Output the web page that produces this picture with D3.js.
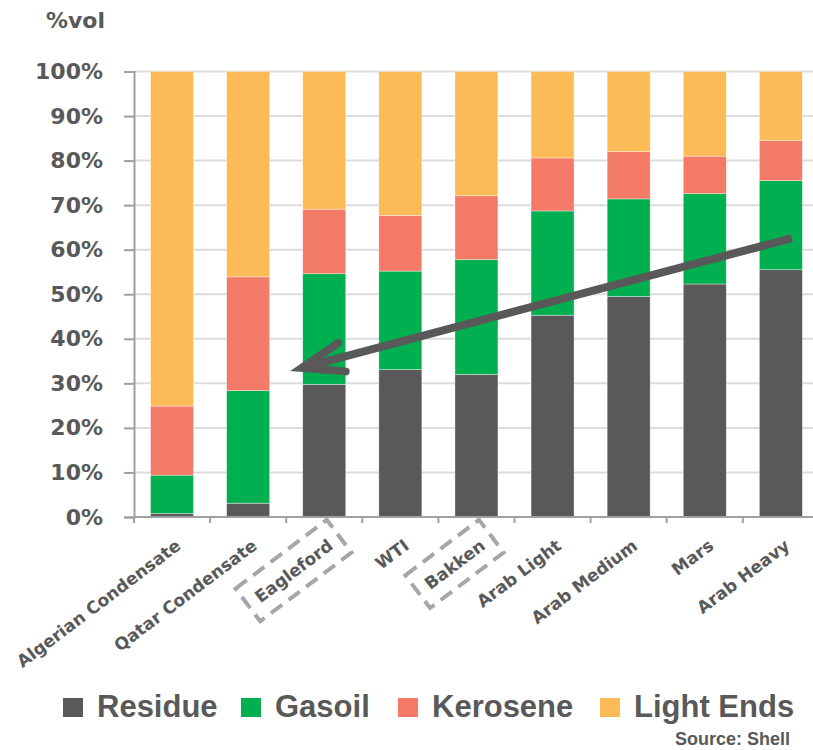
<!DOCTYPE html>
<html>
<head>
<meta charset="utf-8">
<script src="https://cdn.jsdelivr.net/npm/d3@7"></script>
<style>
  html, body { margin: 0; padding: 0; background: #fff; }
  svg { display: block; }
</style>
</head>
<body>
<div id="chart"></div>
<script>
// ---- data ----
const categories = ["Algerian Condensate", "Qatar Condensate", "Eagleford", "WTI", "Bakken",
                    "Arab Light", "Arab Medium", "Mars", "Arab Heavy"];
const seriesNames = ["Residue", "Gasoil", "Kerosene", "Light Ends"];
const residue   = [0.8, 3.1, 29.8, 33.1, 32.0, 45.3, 49.5, 52.3, 55.5];
const gasoil    = [8.6, 25.3, 24.8, 22.1, 25.8, 23.4, 21.9, 20.3, 20.0];
const kerosene  = [15.5, 25.5, 14.5, 12.5, 14.3, 11.9, 10.6, 8.4, 9.0];
const lightEnds = [75.1, 46.1, 30.9, 32.3, 27.9, 19.4, 18.0, 19.0, 15.5];
const yTicks = [0, 10, 20, 30, 40, 50, 60, 70, 80, 90, 100];
const highlighted = ["Eagleford", "Bakken"];
// arrow annotation: from Arab Heavy (≈62.6%) back to Qatar/Eagleford boundary (≈32.8%)
const arrowFrom = { cat: "Arab Heavy", value: 62.6 };
const arrowTo   = { cat: "Eagleford", value: 32.8 };

const colors = ["#595959", "#00b050", "#f27a66", "#fcbb56"];
const textColor = "#595959";

// ---- layout ----
const W = 813, H = 750;
const x0 = 134, step = 76.1;
const svg = d3.select("#chart").append("svg").attr("width", W).attr("height", H);

const x = d3.scaleBand().domain(categories)
  .range([x0, x0 + step * categories.length])
  .paddingInner(0.435).paddingOuter(0.2175);
const y = d3.scaleLinear().domain([0, 100]).range([517, 71.5]);

// gridlines
svg.append("g").selectAll("line").data(yTicks.filter(d => d > 0)).join("line")
  .attr("x1", x0).attr("x2", W)
  .attr("y1", d => y(d)).attr("y2", d => y(d))
  .attr("stroke", "#dcdcdc").attr("stroke-width", 2);

// y axis
const yAxis = d3.axisLeft(y).tickValues(yTicks).tickFormat(d => d + "%").tickSize(10).tickPadding(21);
const gy = svg.append("g").attr("transform", `translate(${x0},0)`).call(yAxis);
gy.select(".domain").attr("stroke", "#a0a0a0").attr("stroke-width", 2);
gy.selectAll(".tick line").attr("stroke", "#a0a0a0").attr("stroke-width", 2);
gy.selectAll(".tick text").attr("fill", textColor)
  .style("font-family", "'DejaVu Sans', sans-serif").style("font-weight", "bold").style("font-size", "22px");

// stacked data
const table = categories.map((c, i) => ({
  cat: c, "Residue": residue[i], "Gasoil": gasoil[i], "Kerosene": kerosene[i], "Light Ends": lightEnds[i]
}));
const stacked = d3.stack().keys(seriesNames)(table);

svg.append("g").selectAll("g").data(stacked).join("g")
  .attr("fill", (d, i) => colors[i])
  .selectAll("rect").data(d => d).join("rect")
  .attr("x", d => x(d.data.cat))
  .attr("width", x.bandwidth())
  .attr("y", d => y(Math.min(100, d[1])))
  .attr("height", d => y(d[0]) - y(Math.min(100, d[1])))
  .attr("stroke", "#ffffff").attr("stroke-width", 0.6).attr("stroke-opacity", 0.6);

// x axis line and ticks (at band boundaries)
const gx = svg.append("g");
gx.append("line").attr("x1", x0).attr("x2", W).attr("y1", y(0)).attr("y2", y(0))
  .attr("stroke", "#a0a0a0").attr("stroke-width", 2);
gx.selectAll("line.tk").data(d3.range(categories.length + 1)).join("line").attr("class", "tk")
  .attr("x1", k => x0 + k * x.step()).attr("x2", k => x0 + k * x.step())
  .attr("y1", y(0)).attr("y2", y(0) + 6)
  .attr("stroke", "#a0a0a0").attr("stroke-width", 2);

// category labels
const angle = -37;
const labels = svg.append("g").selectAll("g").data(categories).join("g")
  .attr("transform", d => `translate(${x(d) + x.bandwidth() / 2 + 10},548) rotate(${angle})`);
labels.append("text")
  .attr("text-anchor", "end")
  .attr("fill", textColor)
  .style("font-family", "'DejaVu Sans', sans-serif").style("font-weight", "bold").style("font-size", "17px")
  .text(d => d);
labels.filter(d => highlighted.includes(d)).each(function () {
  const g = d3.select(this);
  const L = g.select("text").node().getComputedTextLength();
  g.insert("rect", "text")
    .attr("x", -L - 11).attr("y", -27).attr("width", L + 22).attr("height", 41)
    .attr("fill", "none").attr("stroke", "#a6a6a6").attr("stroke-width", 4)
    .attr("stroke-dasharray", "14,8");
});

// arrow
const ax1 = x(arrowFrom.cat) + x.bandwidth() / 2 + 11, ay1 = y(arrowFrom.value);
const tipX = x(arrowTo.cat) - x.step() * x.paddingInner() / 2 + 4, tipY = y(arrowTo.value);
const ang = Math.atan2(ay1 - tipY, ax1 - tipX);
const arm = 44, spread = 0.34;
const inset = 4 / Math.sin(spread);          // so the mitred point lands on the tip
const ax2 = tipX + inset * Math.cos(ang), ay2 = tipY + inset * Math.sin(ang);
const p1 = [ax2 + arm * Math.cos(ang - spread), ay2 + arm * Math.sin(ang - spread)];
const p2 = [ax2 + arm * Math.cos(ang + spread), ay2 + arm * Math.sin(ang + spread)];
svg.append("line").attr("x1", ax1).attr("y1", ay1).attr("x2", ax2 + 4 * Math.cos(ang)).attr("y2", ay2 + 4 * Math.sin(ang))
  .attr("stroke", "#595959").attr("stroke-width", 8);
svg.append("path").attr("d", d3.line()([p1, [ax2, ay2], p2]))
  .attr("fill", "none").attr("stroke", "#595959").attr("stroke-width", 8)
  .attr("stroke-linecap", "round").attr("stroke-linejoin", "miter").attr("stroke-miterlimit", 10);

// "%vol" label
svg.append("text").attr("x", 105).attr("y", 28).attr("text-anchor", "end")
  .attr("fill", textColor)
  .style("font-family", "'DejaVu Sans', sans-serif").style("font-weight", "bold").style("font-size", "22px")
  .text("%vol");

// legend
const legendX = [63, 241, 398, 600];
const leg = svg.append("g").selectAll("g").data(seriesNames).join("g")
  .attr("transform", (d, i) => `translate(${legendX[i]},0)`);
leg.append("rect").attr("x", 0).attr("y", 698).attr("width", 20).attr("height", 19)
  .attr("fill", (d, i) => colors[i]);
leg.append("text").attr("x", 34).attr("y", 717)
  .attr("fill", textColor)
  .style("font-family", "'Liberation Sans', sans-serif").style("font-weight", "bold").style("font-size", "31px")
  .text(d => d);

svg.append("text").attr("x", 790).attr("y", 745).attr("text-anchor", "end")
  .attr("fill", textColor)
  .style("font-family", "'Liberation Sans', sans-serif").style("font-weight", "bold").style("font-size", "18px")
  .text("Source: Shell");
</script>
</body>
</html>
